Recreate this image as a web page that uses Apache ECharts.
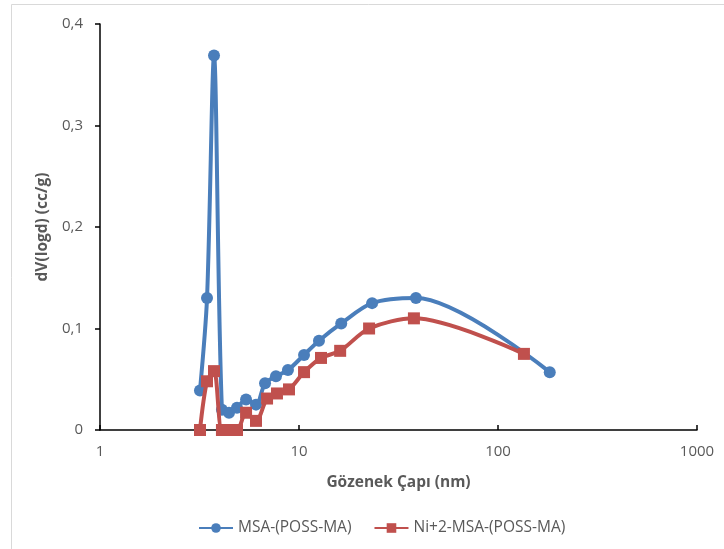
<!DOCTYPE html>
<html>
<head>
<meta charset="utf-8">
<script src="https://cdn.jsdelivr.net/npm/echarts@6/dist/echarts.min.js"></script>
<style>
  html, body { margin: 0; padding: 0; background: #ffffff; }
  #chart { width: 724px; height: 549px; }
</style>
</head>
<body>
<div id="chart"></div>
<script>
// Pore diameter (nm) and dV(logd) values for each sample
const msaDiameter = [3.18, 3.45, 3.74, 4.10, 4.45, 4.88, 5.42, 6.08, 6.75, 7.66, 8.80, 10.6, 12.6, 16.3, 23.3, 38.7, 182];
const msaVolume   = [0.039, 0.130, 0.369, 0.020, 0.017, 0.022, 0.030, 0.025, 0.046, 0.053, 0.059, 0.074, 0.088, 0.105, 0.125, 0.130, 0.057];

const niDiameter = [3.18, 3.45, 3.74, 4.10, 4.45, 4.88, 5.42, 6.08, 6.91, 7.75, 8.91, 10.6, 12.9, 16.1, 22.5, 37.8, 135];
const niVolume   = [0, 0.048, 0.058, 0, 0, 0, 0.017, 0.009, 0.031, 0.036, 0.040, 0.057, 0.071, 0.078, 0.100, 0.110, 0.075];

const seriesNames = ['MSA-(POSS-MA)', 'Ni+2-MSA-(POSS-MA)'];
const xTitle = 'Gözenek Çapı (nm)';
const yTitle = 'dV(logd) (cc/g)';

const pairs = (xs, ys) => xs.map((x, i) => [x, ys[i]]);
const fontFamily = '"Open Sans", "Liberation Sans", sans-serif';

const chart = echarts.init(document.getElementById('chart'));
chart.setOption({
  animation: false,
  backgroundColor: '#ffffff',
  textStyle: { fontFamily: fontFamily },
  graphic: [{
    type: 'rect',
    shape: { x: 11.5, y: 4.5, width: 740, height: 560 },
    style: { fill: 'none', stroke: '#d9d9d9', lineWidth: 1 },
    silent: true
  }],
  grid: { left: 100, right: 27, top: 24, bottom: 119 },
  legend: {
    bottom: 8,
    left: 193,
    itemWidth: 34,
    itemHeight: 12,
    itemGap: 22,
    textStyle: { color: '#595959', fontSize: 15.5, fontFamily: fontFamily },
    data: seriesNames
  },
  xAxis: {
    type: 'log',
    logBase: 10,
    min: 1,
    max: 1000,
    name: xTitle,
    nameLocation: 'middle',
    nameGap: 45,
    nameTextStyle: { color: '#595959', fontSize: 15.5, fontWeight: 'bold' },
    axisLine: { lineStyle: { color: '#000000', width: 1.5 } },
    axisTick: { show: true, inside: true, length: 5, lineStyle: { color: '#000000', width: 1.5 } },
    minorTick: { show: false },
    splitLine: { show: false },
    axisLabel: { color: '#595959', fontSize: 15, margin: 14, formatter: v => String(Math.round(v)) }
  },
  yAxis: {
    type: 'value',
    min: 0,
    max: 0.4,
    interval: 0.1,
    name: yTitle,
    nameLocation: 'middle',
    nameGap: 48,
    nameTextStyle: { color: '#595959', fontSize: 15.5, fontWeight: 'bold' },
    axisLine: { show: true, lineStyle: { color: '#000000', width: 1.5 } },
    axisTick: { show: true, length: 5, lineStyle: { color: '#000000', width: 1.5 } },
    splitLine: { show: false },
    axisLabel: {
      color: '#595959',
      fontSize: 15,
      margin: 17,
      formatter: v => (v === 0 ? '0' : v.toFixed(1).replace('.', ','))
    }
  },
  series: [
    {
      name: seriesNames[0],
      type: 'line',
      smooth: 0.3,
      data: pairs(msaDiameter, msaVolume),
      symbol: 'circle',
      symbolSize: 12,
      itemStyle: { color: '#4a7ebb' },
      lineStyle: { color: '#4a7ebb', width: 4 },
      z: 3
    },
    {
      name: seriesNames[1],
      type: 'line',
      smooth: 0.3,
      data: pairs(niDiameter, niVolume),
      symbol: 'rect',
      symbolSize: 12,
      itemStyle: { color: '#c0504d' },
      lineStyle: { color: '#c0504d', width: 4 },
      z: 4
    }
  ]
});
</script>
</body>
</html>
